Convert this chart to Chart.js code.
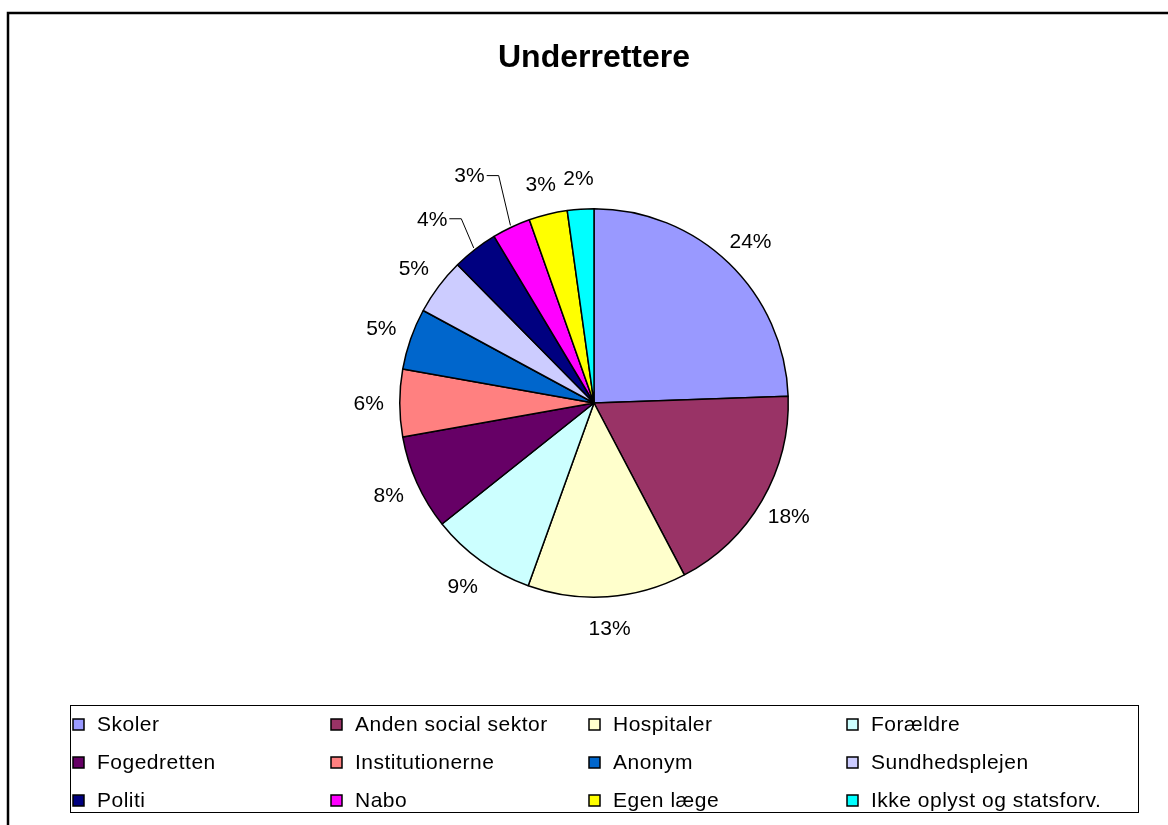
<!DOCTYPE html>
<html>
<head>
<meta charset="utf-8">
<script src="https://cdn.jsdelivr.net/npm/chart.js@4.4.0/dist/chart.umd.min.js"></script>
<style>
  html, body { margin: 0; padding: 0; background: #fff; }
  canvas { display: block; }
</style>
</head>
<body>
<canvas id="myPieChart" width="1168" height="825"></canvas>
<script>
// data
var categories = ['Skoler', 'Anden social sektor', 'Hospitaler', 'Forældre',
                  'Fogedretten', 'Institutionerne', 'Anonym', 'Sundhedsplejen',
                  'Politi', 'Nabo', 'Egen læge', 'Ikke oplyst og statsforv.'];
var shares = [24.45, 17.85, 13.2, 8.8, 7.9, 5.6, 5.1, 4.7, 3.8, 3.2, 3.2, 2.2];
var colours = ['#9999FF', '#993366', '#FFFFCC', '#CCFFFF', '#660066', '#FF8080',
               '#0066CC', '#CCCCFF', '#000080', '#FF00FF', '#FFFF00', '#00FFFF'];
var chartTitle = 'Underrettere';

// labels that excel pulled out with a leader line (index: extra radius)
var pulled = { 8: 20, 9: 34 };

var fontName = '"Liberation Sans", Arial, sans-serif';

var decorPlugin = {
    id: 'decor',
    afterDraw: function(chart) {
        var ctx = chart.ctx;
        ctx.save();

        // outer frame
        ctx.strokeStyle = '#000';
        ctx.lineWidth = 2.5;
        ctx.strokeRect(8, 13, 1180, 840);

        // title
        ctx.fillStyle = '#000';
        ctx.font = 'bold 32px ' + fontName;
        ctx.textAlign = 'center';
        ctx.textBaseline = 'middle';
        ctx.fillText(chartTitle, 594, 58);

        // percent labels
        var meta = chart.getDatasetMeta(0);
        var total = shares.reduce(function(a, b){ return a + b; }, 0);
        ctx.font = '21px ' + fontName;
        ctx.lineWidth = 1;
        meta.data.forEach(function(arc, i){
            var mid = (arc.startAngle + arc.endAngle) / 2;
            var txt = Math.round(shares[i] / total * 100) + '%';
            var r = arc.outerRadius + 31;
            var ang = mid;
            if (pulled[i] !== undefined) {
                r += pulled[i];
                ang = mid - 3.5 * Math.PI / 180;
            }
            var lx = arc.x + Math.cos(ang) * r;
            var ly = arc.y + Math.sin(ang) * r;
            ctx.textAlign = 'center';
            ctx.fillText(txt, lx, ly + 1);
            if (pulled[i] !== undefined) {
                var w = ctx.measureText(txt).width;
                var ex = arc.x + Math.cos(mid) * (arc.outerRadius + 2);
                var ey = arc.y + Math.sin(mid) * (arc.outerRadius + 2);
                ctx.beginPath();
                ctx.moveTo(lx + w / 2 + 2, ly);
                ctx.lineTo(lx + w / 2 + 14, ly);
                ctx.lineTo(ex, ey);
                ctx.stroke();
            }
        });

        // legend box
        var bx = 70, by = 705, bw = 1068, bh = 107;
        ctx.lineWidth = 1;
        ctx.strokeRect(bx + 0.5, by + 0.5, bw, bh);
        ctx.font = '21px ' + fontName;
        ctx.letterSpacing = '0.5px';
        ctx.textAlign = 'left';
        var colW = 258, rowH = 38;
        categories.forEach(function(name, i){
            var col = i % 4, row = Math.floor(i / 4);
            var mx = 73 + col * colW, my = 724 + row * rowH;
            ctx.fillStyle = colours[i];
            ctx.fillRect(mx, my - 5, 11, 11);
            ctx.strokeStyle = '#000';
            ctx.lineWidth = 1.5;
            ctx.strokeRect(mx, my - 5, 11, 11);
            ctx.fillStyle = '#000';
            ctx.fillText(name, mx + 24, my + 1);
        });

        ctx.restore();
    }
};

var ctx = document.getElementById('myPieChart');
var pieChart = new Chart(ctx, {
    type: 'pie',
    data: {
        labels: categories,
        datasets: [{
            data: shares,
            backgroundColor: colours,
            borderColor: '#000',
            borderWidth: 1.5
        }]
    },
    options: {
        responsive: false,
        animation: false,
        devicePixelRatio: 1,
        layout: { padding: { top: 208, bottom: 227, left: 20, right: 0 } },
        plugins: {
            legend: { display: false },
            tooltip: { enabled: false }
        }
    },
    plugins: [decorPlugin]
});
</script>
</body>
</html>
